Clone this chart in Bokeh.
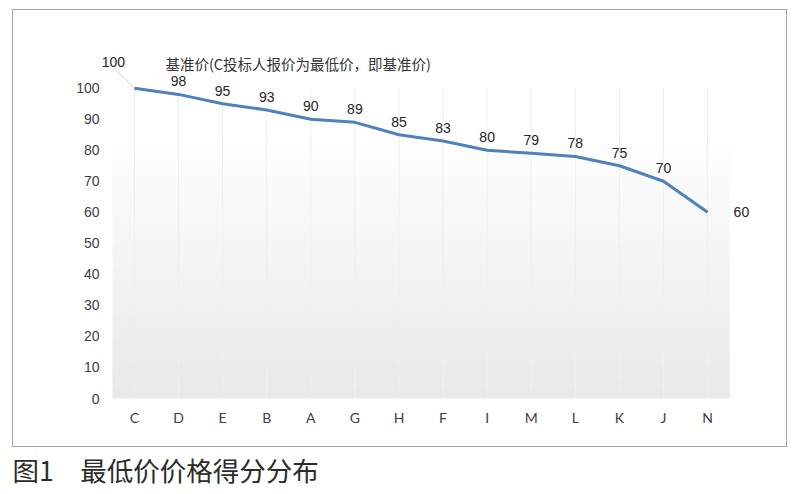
import numpy as np
from bokeh.plotting import figure
from bokeh.models import Range1d, FixedTicker, Label, LabelSet, ColumnDataSource
from bokeh.core.properties import value
from bokeh.embed import file_html
from bokeh.resources import INLINE

# ---- data ----
bidders = ["C", "D", "E", "B", "A", "G", "H", "F", "I", "M", "L", "K", "J", "N"]
scores = [100, 98, 95, 93, 90, 89, 85, 83, 80, 79, 78, 75, 70, 60]
y_ticks = [0, 10, 20, 30, 40, 50, 60, 70, 80, 90, 100]
note_text = "基准价(C投标人报价为最低价，即基准价)"
caption_text = "图1\u3000最低价价格得分分布"

n = len(bidders)
xs = np.arange(n) + 0.5

p = figure(width=775, height=438, output_backend="svg", toolbar_location=None,
           x_range=Range1d(-0.27, n + 0.70), y_range=Range1d(0, 111.5),
           min_border_left=87, min_border_right=28, min_border_top=42, min_border_bottom=50)
p.background_fill_color = "white"
p.border_fill_color = "white"
p.outline_line_color = None
p.styles = {"border": "1px solid #a6a6a6", "margin-left": "12px", "margin-top": "9px"}

# gradient backdrop (white at top -> light gray at bottom) over the category band
rows = 64
img = np.zeros((rows, 1), dtype=np.uint32)
view = img.view(dtype=np.uint8).reshape((rows, 1, 4))
for i in range(rows):
    t = i / (rows - 1)
    g = int(round(233 + (255 - 233) * min(1.0, t * 1.15)))
    view[i, 0, :3] = g
    view[i, 0, 3] = 255
p.image_rgba(image=[img], x=0, y=0, dw=n, dh=y_ticks[-1])

# vertical category grid lines over the backdrop
p.segment(x0=xs, y0=[y_ticks[0]] * n, x1=xs, y1=[y_ticks[-1]] * n,
          line_color="#efefef", line_width=1)

# axes
p.xaxis.ticker = FixedTicker(ticks=list(xs))
p.xaxis.major_label_overrides = {float(x): b for x, b in zip(xs, bidders)}
p.yaxis.ticker = FixedTicker(ticks=y_ticks)
for ax in (p.xaxis[0], p.yaxis[0]):
    ax.axis_line_color = None
    ax.major_tick_line_color = None
    ax.minor_tick_line_color = None
    ax.major_tick_out = 0
    ax.major_tick_in = 0
    ax.minor_tick_out = 0
    ax.major_label_text_color = "#404040"
p.xaxis.major_label_text_font = "Lato"
p.xaxis.major_label_text_font_size = "14px"
p.xaxis.major_label_standoff = 10
p.yaxis.major_label_text_font = "Liberation Sans"
p.yaxis.major_label_text_font_size = "14px"
p.yaxis.major_label_standoff = 1
p.grid.grid_line_color = None

# leader line for first label
p.segment(x0=[xs[0]], y0=[scores[0]], x1=[xs[0] - 0.4], y1=[scores[0] + 5.5],
          line_color="#e6cccc", line_width=1)

# main line
p.line(xs, scores, line_color="#4f81bd", line_width=3, line_join="round")

# data labels
src_mid = ColumnDataSource(dict(x=xs[1:-1], y=scores[1:-1], t=[str(s) for s in scores[1:-1]]))
p.add_layout(LabelSet(x="x", y="y", text="t", source=src_mid, text_align="center",
                      text_baseline="bottom", y_offset=8, text_font=value("Liberation Sans"),
                      text_font_size=value("14px"), text_color=value("#262626")))
p.add_layout(Label(x=xs[-1], y=scores[-1], text=str(scores[-1]), text_align="left",
                   text_baseline="middle", x_offset=26, text_font="Liberation Sans",
                   text_font_size="14px", text_color="#262626"))
p.add_layout(Label(x=xs[0], y=scores[0], text=str(scores[0]), text_align="center",
                   text_baseline="middle", x_offset=-21, y_offset=26, text_font="Liberation Sans",
                   text_font_size="14px", text_color="#262626"))

p.add_layout(Label(x=xs[0], y=scores[0], text=note_text, x_offset=31, y_offset=25,
                   text_baseline="middle", text_font="Noto Sans CJK SC", text_font_size="14.5px",
                   text_color="#333333"))

# caption (separate root so its frame is not aligned with the chart's)
cap = figure(width=400, height=42, output_backend="svg", toolbar_location=None,
             x_range=Range1d(0, 400), y_range=Range1d(0, 42),
             min_border=0, min_border_left=0, min_border_right=0,
             min_border_top=0, min_border_bottom=0, x_axis_type=None, y_axis_type=None)
cap.outline_line_color = None
cap.grid.grid_line_color = None
cap.styles = {"margin-left": "12px"}
cap.add_layout(Label(x=0, y=20, text=caption_text, text_baseline="middle",
                     text_font="Noto Sans CJK SC", text_font_size="26.5px",
                     text_color="#2b2b2b"))

open("out.html", "w").write(file_html([p, cap], INLINE))
